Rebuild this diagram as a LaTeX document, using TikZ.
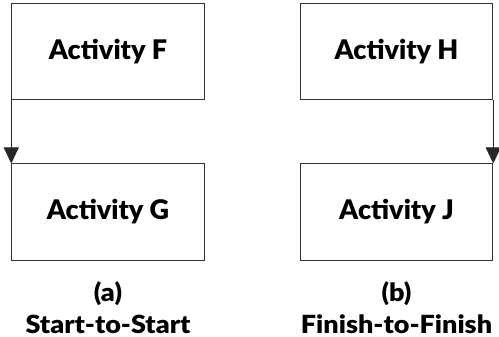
\documentclass[tikz,border=0pt]{standalone}
\usepackage{fontspec}
\setmainfont{Lato}[BoldFont={Lato Black}]
\newfontfamily\capfont{Lato Black}[FakeStretch=1.08]
\usepackage{tikz}
\usetikzlibrary{arrows.meta,positioning}

\tikzset{
  actbox/.style={draw=black!80,line width=1pt,minimum width=192.5pt,minimum height=96pt,
    inner sep=0pt,font=\fontsize{27}{30}\selectfont\bfseries},
  rel/.style={draw=black!85,line width=1pt,-{Triangle[length=16pt,width=15pt]}},
  caption/.style={align=center,inner sep=0pt,font=\fontsize{25}{32}\selectfont\capfont}
}

\begin{document}
\begin{tikzpicture}[x=1pt,y=1pt]
        \useasboundingbox (0,0) rectangle (499,-337);
        \node[actbox] (actF) at (108,-52) {Activity F};
        \node[actbox,below=63pt of actF] (actG) {Activity G};
        \node[actbox,right=95pt of actF] (actH) {Activity H};
        \node[actbox,below=63pt of actH] (actJ) {Activity J};
        \draw[rel] (actF.south west) -- (actG.north west);
        \draw[rel] (actH.south east) -- (actJ.north east);
        \node[caption,below=21pt of actG] (capA) {(a)\\Start-to-Start};
        \node[caption,below=21pt of actJ] (capB) {(b)\\Finish-to-Finish};
    \end{tikzpicture}
\end{document}
